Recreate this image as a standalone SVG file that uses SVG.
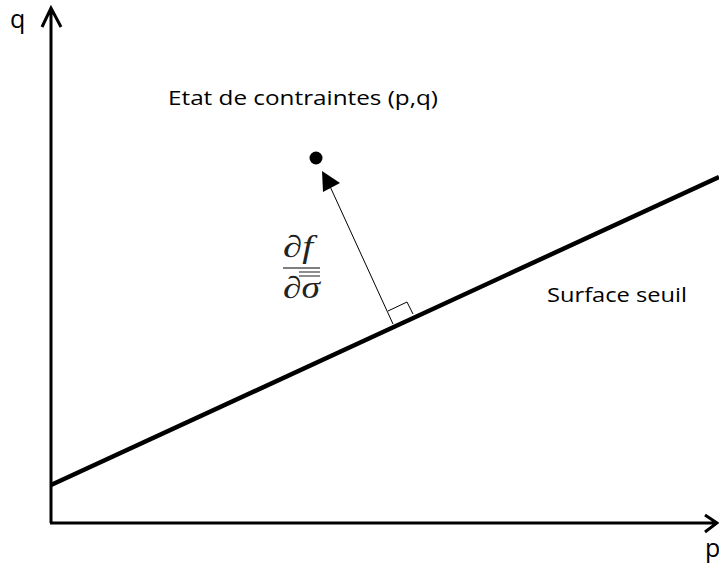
<svg xmlns="http://www.w3.org/2000/svg" width="719" height="565" viewBox="0 0 719 565">
<style>
.lbl{font-family:"Open Sans","Liberation Sans",sans-serif;font-size:20px;fill:#000}
.big{font-size:25px}
.math{font-family:"Liberation Serif","DejaVu Serif",serif;font-style:italic;font-size:31px;fill:#222}
.axis{stroke:#000;stroke-width:3;fill:none}
</style>
<rect width="719" height="565" fill="#fff"/>
<g id="connectors">
<path id="y-axis" class="axis" d="M51,523 V9 M42,27 L51,8 L61,27"/>
<path id="x-axis" class="axis" d="M50,523 H716 M705,515 L717,523 L705,532"/>
<line id="surface" x1="51" y1="485" x2="719" y2="177" stroke="#000" stroke-width="4.5"/>
<line id="normal" x1="393" y1="324" x2="328" y2="182" stroke="#000" stroke-width="1"/>
<polygon points="322,171 323,192 340,183" fill="#000"/>
<polyline points="388,311 407,302 413,314" fill="none" stroke="#000" stroke-width="1"/>
</g>
<g id="point"><circle cx="316" cy="158" r="6.5" fill="#000"/></g>
<g id="labels">
<text class="lbl big" x="10" y="28">q</text>
<text class="lbl big" x="705" y="557">p</text>
<text class="lbl" x="168" y="105" textLength="270" lengthAdjust="spacingAndGlyphs">Etat de contraintes (p,q)</text>
<text class="lbl" x="547" y="302" textLength="140" lengthAdjust="spacingAndGlyphs">Surface seuil</text>
</g>
<g id="fraction">
<text class="math" x="283" y="257" textLength="30" lengthAdjust="spacingAndGlyphs">∂f</text>
<line x1="283" y1="268" x2="320" y2="268" stroke="#555" stroke-width="1.5"/>
<text class="math" x="283" y="298" textLength="37" lengthAdjust="spacingAndGlyphs">∂σ</text>
<line x1="299" y1="272" x2="320" y2="272" stroke="#444" stroke-width="1.2"/>
<line x1="299" y1="276" x2="320" y2="276" stroke="#444" stroke-width="1.2"/>
</g>
</svg>
